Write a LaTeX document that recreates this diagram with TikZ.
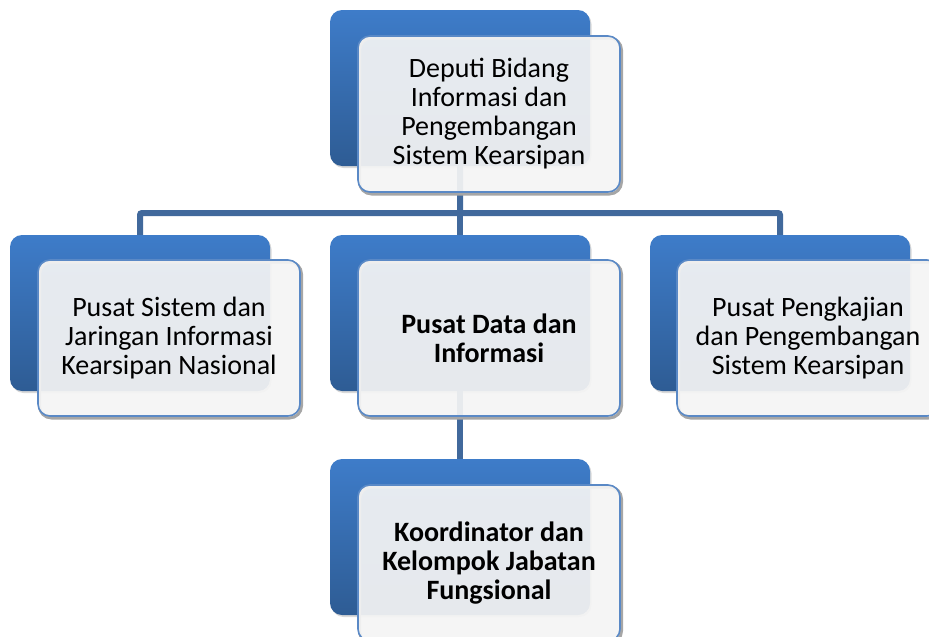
\documentclass[tikz,border=0pt]{standalone}
\usepackage{fontspec}
\setmainfont{Carlito}
\usetikzlibrary{positioning,calc,shadows}
\definecolor{navy}{HTML}{2E5C94}
\definecolor{sky}{HTML}{3E7CC9}
\definecolor{rim}{HTML}{5A89C6}
\definecolor{steel}{HTML}{41699C}
\definecolor{paper}{HTML}{F4F4F4}
\tikzset{back/.style={rounded corners=12pt,top color=sky,bottom color=navy,draw=none,minimum width=260pt,minimum height=156pt,drop shadow={shadow xshift=1.5pt,shadow yshift=-2pt,opacity=.3}},front/.style={rounded corners=12pt,fill=paper,fill opacity=.93,text opacity=1,draw=rim,line width=1.6pt,minimum width=262pt,minimum height=156pt,align=center,font=\fontsize{28}{29}\selectfont,preaction={draw=black!35,fill=none,line width=3pt,transform canvas={shift={(1.5pt,-2pt)}}}},wire/.style={draw=steel,line width=6pt,rounded corners=2pt}}

\begin{document}
\begin{tikzpicture}[x=1pt,y=-1pt]
\useasboundingbox (0,0) rectangle (929,637);
\node[back] (depB) at (460,88) {};
\node[back] (jarB) at (140,313) {};
\node[back] (datB) at (460,313) {};
\node[back] (kajB) at (780,313) {};
\node[back] (fungB) at (460,537) {};
\coordinate (bar) at (460,213);
\draw[wire] (depB.south) -- (bar) -| (jarB.north);
\draw[wire] (bar) -| (kajB.north);
\draw[wire] (bar) -- (datB.north);
\draw[wire] (datB.south) -- (fungB.north);
\node[front] (dep) at (489,114) {Deputi Bidang\\Informasi dan\\Pengembangan\\Sistem Kearsipan};
\node[front] (jar) at (169,338) {Pusat Sistem dan\\Jaringan Informasi\\Kearsipan Nasional};
\node[front] (dat) at (489,338) {\textbf{Pusat Data dan}\\\textbf{Informasi}};
\node[front] (kaj) at (808,338) {Pusat Pengkajian\\dan Pengembangan\\Sistem Kearsipan};
\node[front] (fung) at (489,563) {\textbf{Koordinator dan}\\\textbf{Kelompok Jabatan}\\\textbf{Fungsional}};
\end{tikzpicture}
\end{document}
